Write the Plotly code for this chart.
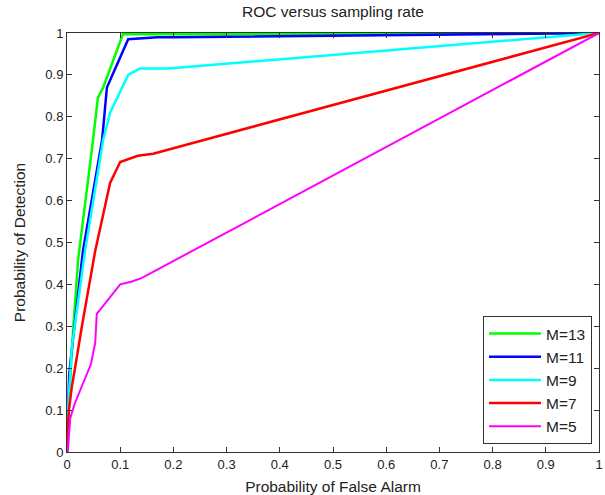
import plotly.graph_objects as go

# ---- data ----
m13_x = [0, 0.005, 0.012, 0.021, 0.049, 0.058, 0.068, 0.105, 0.3, 1.0]
m13_y = [0, 0.15, 0.30, 0.46, 0.745, 0.845, 0.87, 0.997, 0.997, 1.0]

m11_x = [0, 0.002, 0.004, 0.006, 0.030, 0.066, 0.075, 0.115, 0.17, 0.20, 0.60, 0.98, 1.0]
m11_y = [0, 0.10, 0.18, 0.21, 0.48, 0.745, 0.87, 0.985, 0.99, 0.99, 0.995, 1.0, 1.0]

m9_x = [0, 0.002, 0.009, 0.034, 0.068, 0.081, 0.115, 0.137, 0.19, 1.0]
m9_y = [0, 0.10, 0.25, 0.48, 0.745, 0.81, 0.90, 0.915, 0.915, 1.0]

m7_x = [0, 0.001, 0.004, 0.009, 0.015, 0.028, 0.053, 0.081, 0.10, 0.133, 0.162, 1.0]
m7_y = [0, 0.05, 0.105, 0.155, 0.20, 0.30, 0.48, 0.642, 0.692, 0.707, 0.712, 1.0]

m5_x = [0, 0.002, 0.006, 0.015, 0.045, 0.053, 0.056, 0.062, 0.10, 0.122, 0.14, 1.0]
m5_y = [0, 0.01, 0.08, 0.117, 0.21, 0.26, 0.33, 0.339, 0.40, 0.407, 0.415, 1.0]

series = [
    ("M=13", m13_x, m13_y, "#00ff00", 2.5),
    ("M=11", m11_x, m11_y, "#0000ff", 2.5),
    ("M=9", m9_x, m9_y, "#00ffff", 2.5),
    ("M=7", m7_x, m7_y, "#ff0000", 2.5),
    ("M=5", m5_x, m5_y, "#ff00ff", 2.0),
]

tick_vals = [0, 0.1, 0.2, 0.3, 0.4, 0.5, 0.6, 0.7, 0.8, 0.9, 1]
tick_text = ["0", "0.1", "0.2", "0.3", "0.4", "0.5", "0.6", "0.7", "0.8", "0.9", "1"]

FONT = "Liberation Sans, Arial, sans-serif"

fig = go.Figure()
for name, xs, ys, col, w in series:
    fig.add_trace(go.Scatter(x=xs, y=ys, mode="lines", name=name,
                             line=dict(color=col, width=w)))

axis_common = dict(
    range=[0, 1], tickvals=tick_vals, ticktext=tick_text,
    ticks="inside", ticklen=5, tickwidth=1, tickcolor="#333333",
    showline=True, linecolor="#333333", linewidth=1, mirror="ticks",
    showgrid=False, zeroline=False, automargin=False,
    tickfont=dict(family=FONT, size=13, color="#222222"),
)

fig.update_layout(
    width=605, height=495,
    margin=dict(l=67, r=6, t=33, b=43, autoexpand=False),
    paper_bgcolor="white", plot_bgcolor="white",
    showlegend=True,
    title=dict(text="ROC versus sampling rate", x=(333.0) / 605, xanchor="center",
               y=1 - 12 / 495, yanchor="middle", automargin=False,
               font=dict(family=FONT, size=15.5, color="#222222")),
    xaxis=dict(axis_common,
               title=dict(text="Probability of False Alarm", standoff=10,
                          font=dict(family=FONT, size=15.5, color="#222222"))),
    yaxis=dict(axis_common,
               title=dict(text="Probability of Detection", standoff=15,
                          font=dict(family=FONT, size=15.5, color="#222222"))),
    legend=dict(x=(592 - 67) / 532, xanchor="right", y=(452 - 444) / 419, yanchor="bottom",
                bgcolor="white", bordercolor="#333333", borderwidth=1,
                font=dict(family=FONT, size=15.5, color="#222222"),
                itemwidth=52, tracegroupgap=0),
)

fig.write_html("out.html")
